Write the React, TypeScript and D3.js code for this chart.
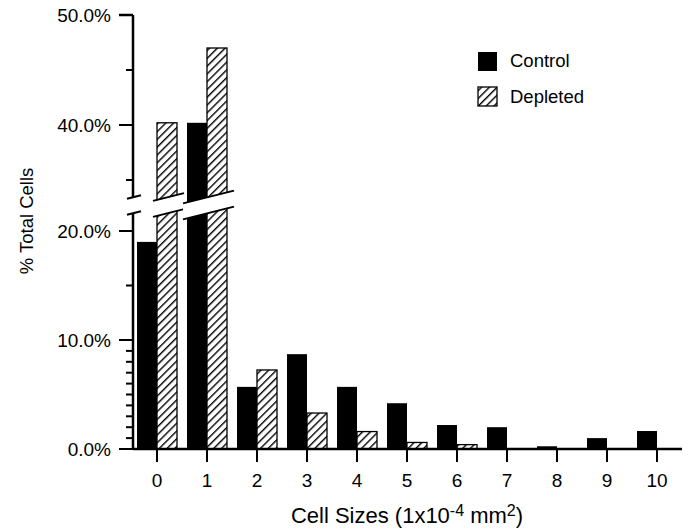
import React from "react";
import * as d3 from "d3";

const categories = [0, 1, 2, 3, 4, 5, 6, 7, 8, 9, 10];
const controlValues = [19.0, 40.2, 5.7, 8.7, 5.7, 4.2, 2.2, 2.0, 0.25, 1.0, 1.65];
const depletedValues = [40.2, 47.0, 7.25, 3.3, 1.6, 0.6, 0.4, 0, 0, 0, 0];
const lowerTicks = [0, 10, 20];
const lowerMinor = [1, 2, 3, 4, 5, 6, 7, 8, 9, 15];
const upperTicks = [40, 50];
const upperMinor = [35, 45];
const seriesNames = ["Control", "Depleted"];

const W = 694;
const H = 530;
const FONT = "'Liberation Sans', Arial, Helvetica, sans-serif";

export default function App() {
  const x = d3.scaleLinear().domain([0, 10]).range([157, 657]);
  const yLow = d3.scaleLinear().domain([0, 20]).range([449, 231]);
  const yUp = d3.scaleLinear().domain([40, 50]).range([125, 15]);
  const axisX = 133;
  const barW = 20;
  const breakY = 205; // center of the break band
  const lowMax = yLow.invert(breakY);
  const slope = 0.25;
  const gap = 16;
  const upperLine = (xx: number, cx: number) => 197 - slope * (xx - cx);

  type Seg = { a: number; b: number };
  const segs: Seg[] = [{ a: 127, b: 141 }];

  const bars: React.ReactNode[] = [];
  categories.forEach((c, i) => {
    const vals = [controlValues[i], depletedValues[i]];
    let minX = Infinity;
    let maxX = -Infinity;
    vals.forEach((v, s) => {
      if (v <= 0) return;
      const bx = s === 0 ? x(c) - barW : x(c);
      const fill = s === 0 ? "#000" : "url(#hatch)";
      const stroke = "#000";
      const sw = s === 0 ? 0 : 1.3;
      if (v > lowMax) {
        minX = Math.min(minX, bx);
        maxX = Math.max(maxX, bx + barW);
        bars.push(
          <rect key={`l${i}-${s}`} x={bx} y={breakY} width={barW} height={yLow(0) - breakY} fill={fill} stroke={stroke} strokeWidth={sw} />
        );
        bars.push(
          <rect key={`u${i}-${s}`} x={bx} y={yUp(v)} width={barW} height={breakY - yUp(v)} fill={fill} stroke={stroke} strokeWidth={sw} />
        );
      } else {
        bars.push(
          <rect key={`b${i}-${s}`} x={bx} y={yLow(v)} width={barW} height={yLow(0) - yLow(v)} fill={fill} stroke={stroke} strokeWidth={sw} />
        );
      }
    });
    if (minX < Infinity) segs.push({ a: minX - 4, b: maxX + 7 });
  });

  const breaks = segs.map((sg, k) => {
    const cx = (sg.a + sg.b) / 2;
    const ua = upperLine(sg.a, cx);
    const ub = upperLine(sg.b, cx);
    const pts = `${sg.a},${ua} ${sg.b},${ub} ${sg.b},${ub + gap} ${sg.a},${ua + gap}`;
    return (
      <g key={`br${k}`}>
        <polygon points={pts} fill="#fff" stroke="none" />
        <line x1={sg.a} y1={ua} x2={sg.b} y2={ub} stroke="#000" strokeWidth={2} />
        <line x1={sg.a} y1={ua + gap} x2={sg.b} y2={ub + gap} stroke="#000" strokeWidth={2} />
      </g>
    );
  });

  const fmt = (v: number) => `${v.toFixed(1)}%`;

  return (
    <svg width={W} height={H} style={{ display: "block", position: "absolute", left: 0, top: 0 }} fontFamily={FONT}>
      <defs>
        <pattern id="hatch" patternUnits="userSpaceOnUse" width={5.5} height={5.5} patternTransform="rotate(45)">
          <rect width={5.5} height={5.5} fill="#fff" />
          <line x1={0.7} y1={0} x2={0.7} y2={5.5} stroke="#000" strokeWidth={1.4} />
        </pattern>
      </defs>
      <rect width={W} height={H} fill="#fff" />

      {bars}

      <line x1={axisX} y1={yUp(50)} x2={axisX} y2={yLow(0) + 1} stroke="#000" strokeWidth={2.5} />
      <line x1={axisX} y1={yLow(0)} x2={682} y2={yLow(0)} stroke="#000" strokeWidth={2.5} />
      <line x1={axisX - 14} y1={yUp(50)} x2={axisX} y2={yUp(50)} stroke="#000" strokeWidth={2.5} />

      {breaks}

      {lowerTicks.map((t) => (
        <g key={`lt${t}`}>
          <line x1={axisX - 14} y1={yLow(t)} x2={axisX} y2={yLow(t)} stroke="#000" strokeWidth={2} />
          <text x={111} y={yLow(t)} dy="0.36em" textAnchor="end" fontSize={19}>{fmt(t)}</text>
        </g>
      ))}
      {lowerMinor.map((t) => (
        <line key={`lm${t}`} x1={axisX - 7} y1={yLow(t)} x2={axisX} y2={yLow(t)} stroke="#000" strokeWidth={2} />
      ))}
      {upperTicks.map((t) => (
        <g key={`ut${t}`}>
          <line x1={axisX - 14} y1={yUp(t)} x2={axisX} y2={yUp(t)} stroke="#000" strokeWidth={2} />
          <text x={111} y={yUp(t)} dy="0.36em" textAnchor="end" fontSize={19}>{fmt(t)}</text>
        </g>
      ))}
      {upperMinor.map((t) => (
        <line key={`um${t}`} x1={axisX - 7} y1={yUp(t)} x2={axisX} y2={yUp(t)} stroke="#000" strokeWidth={2} />
      ))}

      {categories.map((c) => (
        <g key={`xt${c}`}>
          <line x1={x(c)} y1={yLow(0)} x2={x(c)} y2={yLow(0) + 13} stroke="#000" strokeWidth={2} />
          <text x={x(c)} y={487} textAnchor="middle" fontSize={19}>{c}</text>
        </g>
      ))}

      <text transform="translate(33,221) rotate(-90)" textAnchor="middle" fontSize={18.5}>% Total Cells</text>
      <text x={407} y={523} textAnchor="middle" fontSize={22}>
        Cell Sizes (1x10<tspan dy={-7} fontSize={16}>-4</tspan>
        <tspan dy={7}> mm</tspan>
        <tspan dy={-7} fontSize={16}>2</tspan>
        <tspan dy={7}>)</tspan>
      </text>

      <rect x={478} y={52} width={19} height={19} fill="#000" />
      <text x={510} y={67} fontSize={18.5}>{seriesNames[0]}</text>
      <rect x={478} y={87} width={19} height={19} fill="url(#hatch)" stroke="#000" strokeWidth={1.3} />
      <text x={510} y={103} fontSize={18.5}>{seriesNames[1]}</text>
    </svg>
  );
}
